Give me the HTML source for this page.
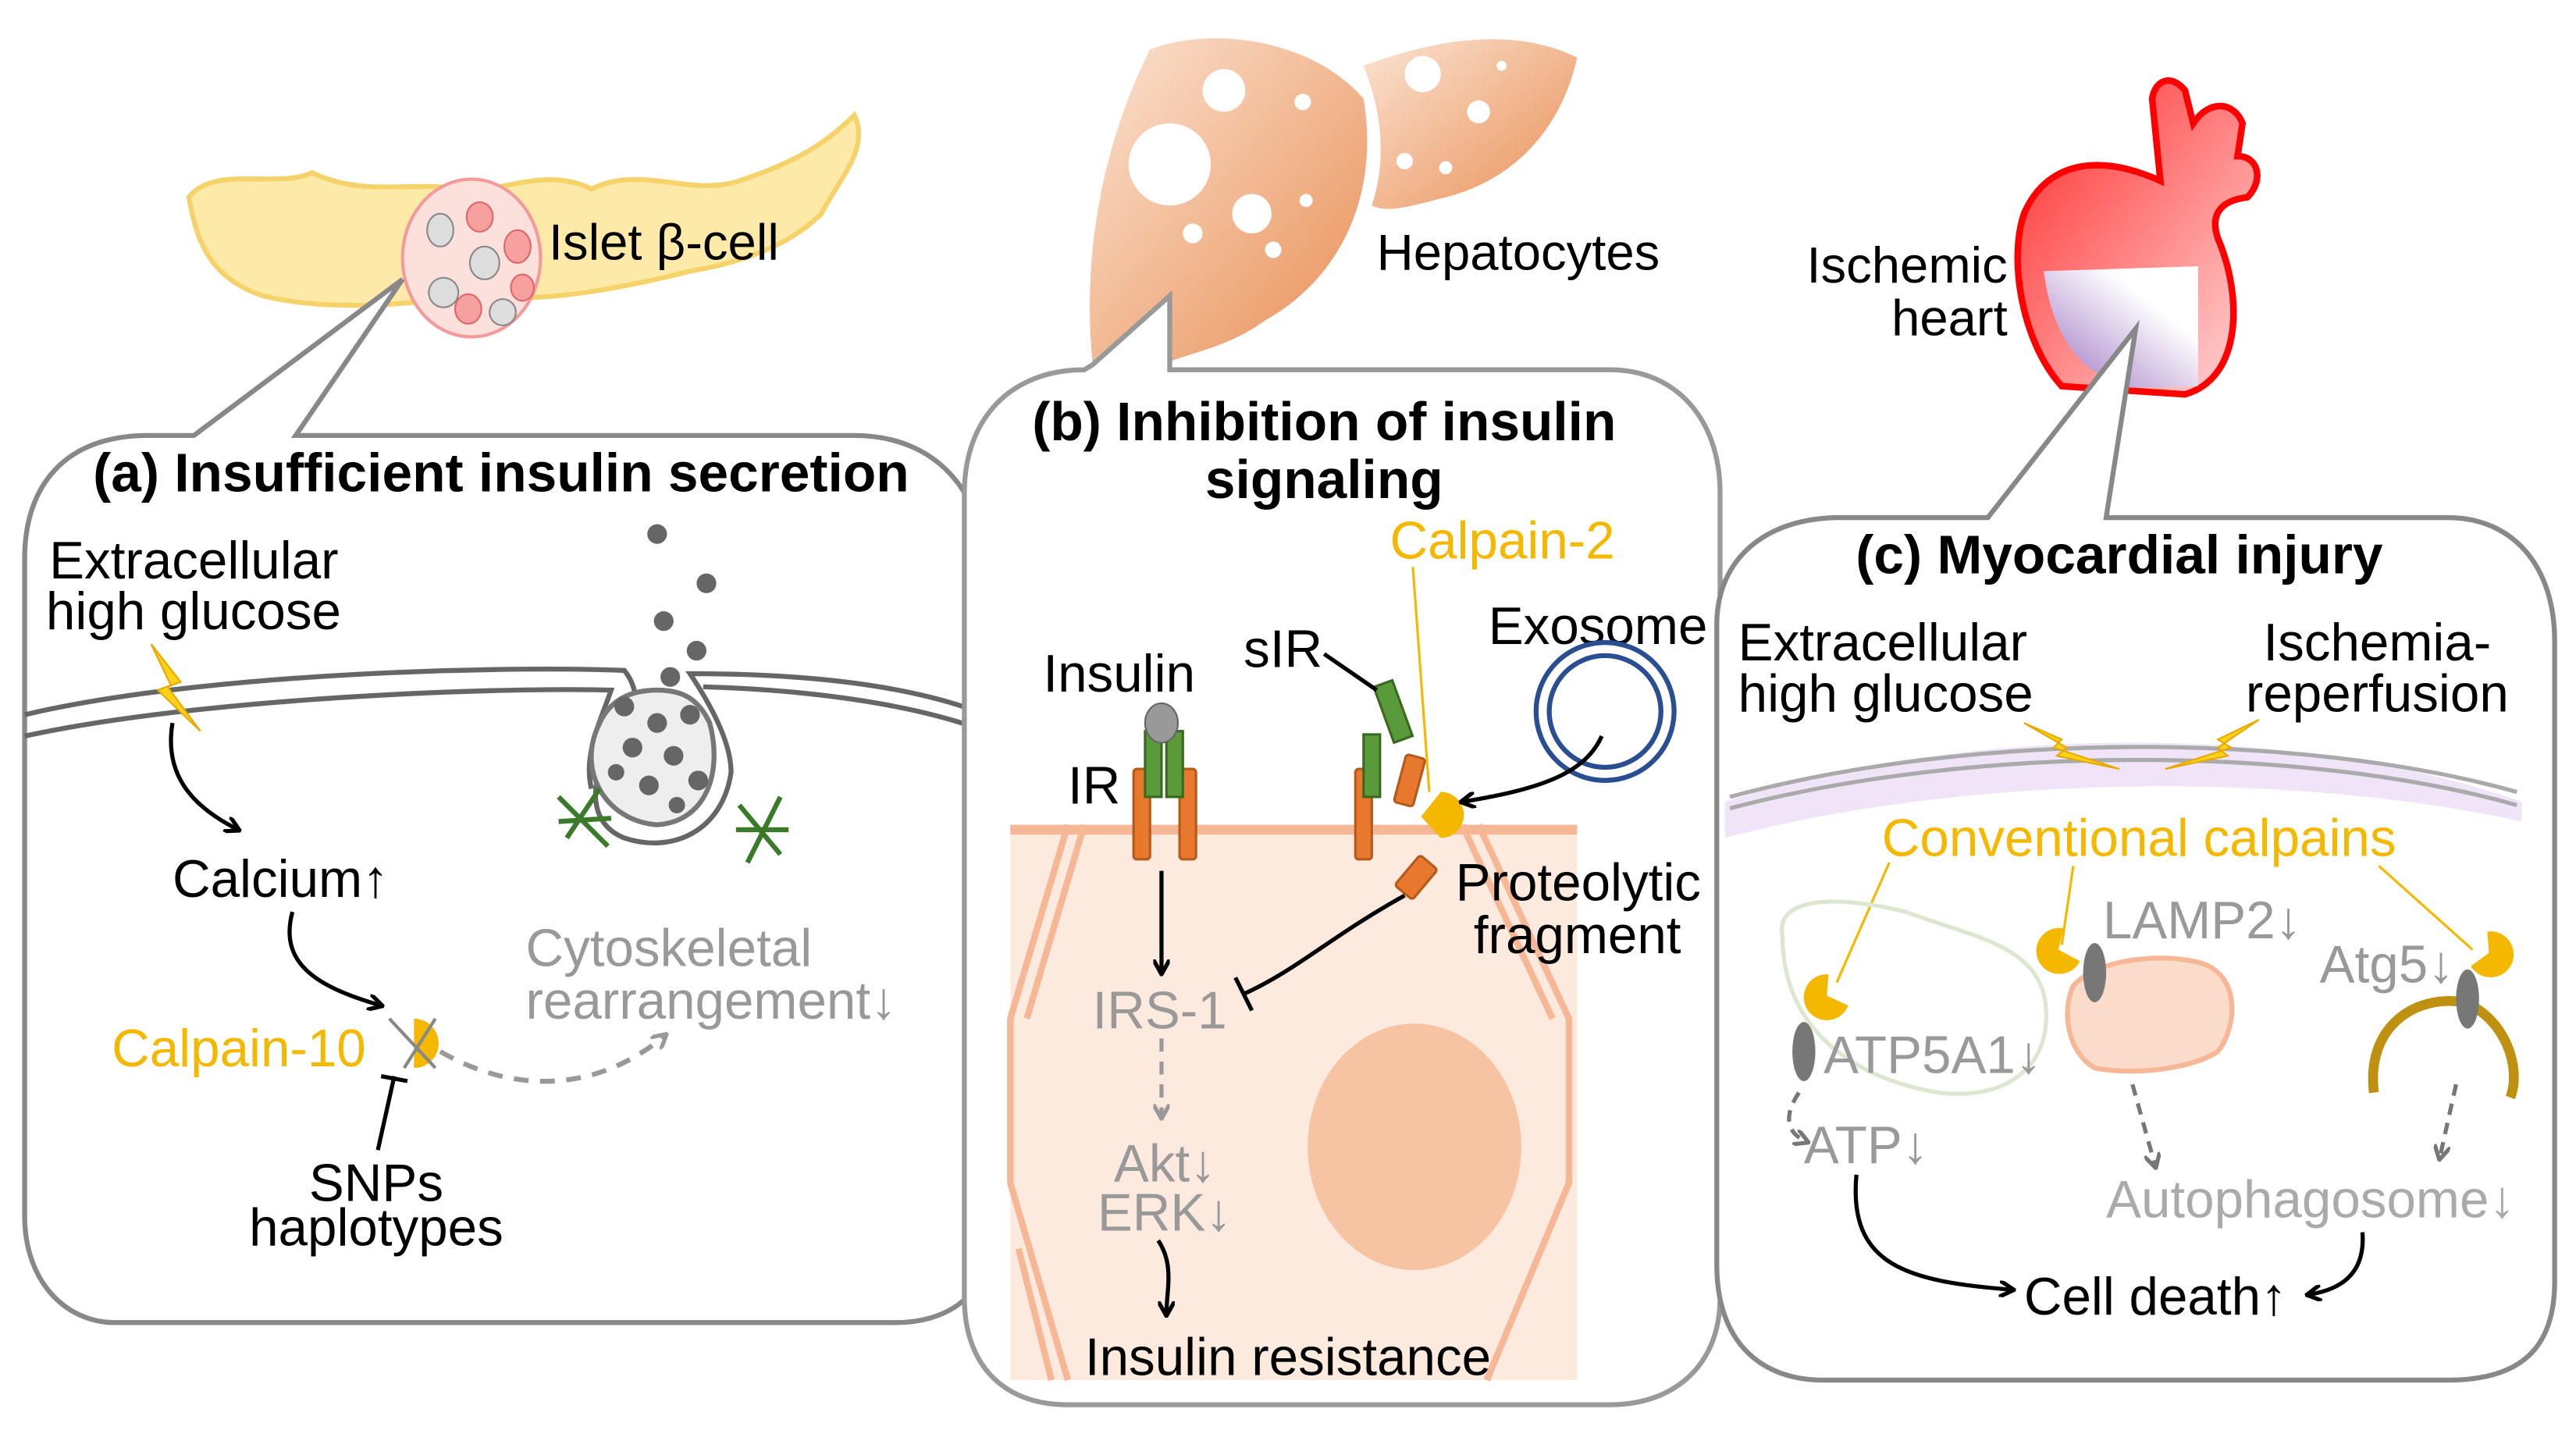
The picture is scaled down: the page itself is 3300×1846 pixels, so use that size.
<!DOCTYPE html>
<html><head><meta charset="utf-8"><style>
html,body{margin:0;padding:0;background:#fff}
svg{display:block}
text{font-family:"Liberation Sans",sans-serif}
</style></head><body>
<svg width="3300" height="1846" viewBox="0 0 1568 877" xmlns="http://www.w3.org/2000/svg">
<defs>
<marker id="ab" markerWidth="10" markerHeight="10" refX="8" refY="5" orient="auto" markerUnits="userSpaceOnUse"><path d="M0,0 L9,5 L0,10" fill="none" stroke="#000" stroke-width="2.5"/></marker>
<marker id="ag" markerWidth="10" markerHeight="10" refX="8" refY="5" orient="auto" markerUnits="userSpaceOnUse"><path d="M0,0 L9,5 L0,10" fill="none" stroke="#999" stroke-width="2.5"/></marker>
<marker id="ad" markerWidth="10" markerHeight="10" refX="8" refY="5" orient="auto" markerUnits="userSpaceOnUse"><path d="M0,0 L9,5 L0,10" fill="none" stroke="#777" stroke-width="2.5"/></marker>
<linearGradient id="liv" x1="0" y1="0" x2="1" y2="1"><stop offset="0" stop-color="#fbe3d2"/><stop offset="1" stop-color="#e98f55"/></linearGradient>
<linearGradient id="hrt" x1="0" y1="0" x2="1" y2="1"><stop offset="0" stop-color="#ff2a2a"/><stop offset="1" stop-color="#ffdada"/></linearGradient>
<linearGradient id="isc" x1="0" y1="1" x2="1" y2="0"><stop offset="0" stop-color="#9a70c0"/><stop offset="0.7" stop-color="#fff"/></linearGradient>
</defs>

<!-- pancreas -->
<path d="M115,120 C130,100 170,115 190,105 C220,120 250,110 280,115 C300,120 330,100 360,115 C390,100 420,120 450,110 C480,100 500,90 520,70 C530,90 510,110 500,130 C480,150 450,160 420,165 C380,175 330,185 290,180 C250,185 200,190 160,180 C130,170 120,150 115,120 Z" fill="#fde9a8" stroke="#f5d36a" stroke-width="3"/>
<ellipse cx="287" cy="157" rx="42" ry="48" fill="#fce0dc" stroke="#f39a9a" stroke-width="2"/>
<g fill="#ddd" stroke="#888"><ellipse cx="268" cy="140" rx="8" ry="10"/><ellipse cx="295" cy="160" rx="9" ry="10"/><ellipse cx="270" cy="178" rx="9" ry="9"/><ellipse cx="306" cy="190" rx="8" ry="8"/></g>
<g fill="#f6a0a0" stroke="#d66"><ellipse cx="292" cy="132" rx="8" ry="9"/><ellipse cx="315" cy="150" rx="8" ry="10"/><ellipse cx="285" cy="188" rx="8" ry="9"/><ellipse cx="318" cy="175" rx="7" ry="8"/></g>
<text x="334" y="158" font-size="31">Islet β-cell</text>

<!-- liver -->
<path d="M700,30 C740,15 800,25 830,60 C840,120 815,170 770,195 C750,210 725,215 712,220 L712,210 L665,220 C660,170 665,100 700,30 Z" fill="url(#liv)"/>
<path d="M830,40 C870,25 920,15 960,35 C950,80 920,110 880,120 C860,125 845,130 835,125 C845,95 840,65 830,40 Z" fill="url(#liv)"/>
<g fill="#fff"><circle cx="712" cy="100" r="25"/><circle cx="745" cy="55" r="13"/><circle cx="762" cy="130" r="12"/><circle cx="793" cy="62" r="5"/><circle cx="775" cy="152" r="5"/><circle cx="795" cy="122" r="4"/><circle cx="726" cy="142" r="6"/><circle cx="866" cy="45" r="11"/><circle cx="900" cy="68" r="7"/><circle cx="855" cy="98" r="5"/><circle cx="880" cy="102" r="4"/><circle cx="914" cy="40" r="3"/></g>
<text x="838" y="164" font-size="31">Hepatocytes</text>

<!-- heart -->
<path d="M1315,110 L1310,60 C1312,48 1322,45 1330,55 L1335,75 C1345,60 1360,62 1365,75 L1362,95 C1375,95 1378,110 1368,120 C1352,122 1345,130 1350,145 C1365,180 1365,230 1330,240 L1255,235 C1232,210 1222,160 1232,130 C1245,100 1275,92 1315,110 Z" fill="url(#hrt)" stroke="#ff0000" stroke-width="4"/>
<path d="M1244,165 L1338,162 L1338,235 L1300,236 C1270,230 1250,210 1244,165 Z" fill="url(#isc)"/>
<text x="1222" y="172" font-size="31" text-anchor="end">Ischemic</text>
<text x="1222" y="204" font-size="31" text-anchor="end">heart</text>

<!-- panel a -->
<path d="M118,265 L245,170 L180,265 L520,265 C570,265 600,300 600,350 L600,760 C600,790 575,805 545,805 L70,805 C40,805 15,780 15,740 L15,340 C15,295 40,265 90,265 Z" fill="#fff" stroke="#888" stroke-width="3"/>
<text x="305" y="299" font-size="33" font-weight="bold" text-anchor="middle">(a) Insufficient insulin secretion</text>
<text x="30" y="352" font-size="32">Extracellular</text>
<text x="28" y="383" font-size="32">high glucose</text>
<path d="M15,435 C120,410 300,405 380,408 C390,420 390,440 375,450 C360,470 355,500 380,510 C410,520 440,505 445,470 C445,450 430,425 420,410 C480,410 550,415 600,435" fill="none" stroke="#666" stroke-width="3"/>
<path d="M15,448 C120,425 300,418 372,420 C365,440 355,460 360,480" fill="none" stroke="#666" stroke-width="3"/>
<path d="M428,418 C500,420 560,430 600,445" fill="none" stroke="#666" stroke-width="3"/>
<path d="M365,440 C350,470 370,500 400,502 C430,500 440,470 432,440 C425,425 415,420 400,420 C385,420 372,425 365,440 Z" fill="#eee" stroke="#777" stroke-width="3"/>
<g fill="#666"><circle cx="400" cy="325" r="6"/><circle cx="430" cy="355" r="6"/><circle cx="404" cy="378" r="6"/><circle cx="424" cy="396" r="6"/><circle cx="408" cy="412" r="6"/><circle cx="380" cy="430" r="6"/><circle cx="400" cy="440" r="6"/><circle cx="420" cy="435" r="6"/><circle cx="385" cy="455" r="6"/><circle cx="410" cy="460" r="6"/><circle cx="425" cy="475" r="6"/><circle cx="395" cy="478" r="6"/><circle cx="375" cy="470" r="5"/><circle cx="412" cy="490" r="5"/></g>
<g stroke="#3a7a2a" stroke-width="3"><path d="M340,485 L370,515 M345,510 L365,480 M340,500 L372,498"/><path d="M450,490 L475,520 M455,525 L475,485 M448,505 L480,505"/></g>
<path d="M92,392 L110,415 L102,418 L122,445 L96,420 L104,417 Z" fill="#ffd21a" stroke="#e8a800"/>
<path d="M105,440 C100,470 115,490 145,505" fill="none" stroke="#000" stroke-width="2.5" marker-end="url(#ab)"/>
<text x="105" y="546" font-size="32">Calcium↑</text>
<path d="M178,555 C170,585 190,600 232,612" fill="none" stroke="#000" stroke-width="2.5" marker-end="url(#ab)"/>
<text x="68" y="649" font-size="32" fill="#f5b800">Calpain-10</text>
<path d="M252,620 A15,15 0 1 1 252,650 L252,635 Z" fill="#f5b800"/>
<path d="M237,620 L265,650 M246,650 L265,620" stroke="#888" stroke-width="2"/>
<path d="M268,640 C320,670 370,660 405,630" fill="none" stroke="#999" stroke-width="3" stroke-dasharray="9,7" marker-end="url(#ag)"/>
<text x="320" y="588" font-size="32" fill="#999">Cytoskeletal</text>
<text x="320" y="620" font-size="32" fill="#999">rearrangement↓</text>
<path d="M240,655 L230,700 M232,655 L248,658" stroke="#000" stroke-width="2.5"/>
<text x="229" y="731" font-size="32" text-anchor="middle">SNPs</text>
<text x="229" y="758" font-size="32" text-anchor="middle">haplotypes</text>

<!-- panel b -->
<path d="M665,222 L712,180 L712,225 L980,225 C1020,225 1047,255 1047,300 L1047,790 C1047,830 1020,855 980,855 L650,855 C610,855 587,830 587,790 L587,300 C587,255 615,225 660,225 Z" fill="#fff" stroke="#999" stroke-width="3"/>
<rect x="615" y="502" width="345" height="338" fill="#fdeadf"/>
<path d="M650,502 L615,620 L615,720 L650,840 M660,502 L625,620 M640,840 L620,760 M900,502 L955,620 L955,720 L905,840 M890,502 L945,620" fill="none" stroke="#f6b796" stroke-width="4"/>
<path d="M615,505 L960,505" stroke="#f6b796" stroke-width="6"/>
<ellipse cx="861" cy="698" rx="65" ry="75" fill="#f6c3a3"/>
<text x="806" y="268" font-size="33" font-weight="bold" text-anchor="middle">(b) Inhibition of insulin</text>
<text x="806" y="303" font-size="33" font-weight="bold" text-anchor="middle">signaling</text>
<text x="846" y="340" font-size="32" fill="#f5b800">Calpain-2</text>
<path d="M860,345 L870,482" stroke="#f5b800" stroke-width="1.5"/>
<text x="635" y="421" font-size="32">Insulin</text>
<text x="650" y="489" font-size="32">IR</text>
<text x="757" y="406" font-size="32">sIR</text>
<text x="906" y="392" font-size="32">Exosome</text>
<circle cx="977" cy="433" r="42" fill="none" stroke="#2a4e92" stroke-width="3"/>
<circle cx="977" cy="433" r="34" fill="none" stroke="#2a4e92" stroke-width="3"/>
<g fill="#e8782e" stroke="#b45a1a" stroke-width="1.5">
<rect x="690" y="468" width="10" height="55" rx="2"/><rect x="718" y="468" width="10" height="55" rx="2"/>
<rect x="825" y="468" width="10" height="55" rx="2"/>
<rect x="852" y="460" width="12" height="30" rx="2" transform="rotate(15 858 475)"/>
<rect x="855" y="522" width="14" height="24" rx="2" transform="rotate(40 862 534)"/>
</g>
<g fill="#5a9a3a" stroke="#3a6a20" stroke-width="1.5">
<rect x="697" y="445" width="10" height="40"/><rect x="710" y="445" width="10" height="40"/>
<rect x="830" y="447" width="10" height="38"/>
<rect x="842" y="415" width="12" height="36" transform="rotate(-20 848 433)"/>
</g>
<ellipse cx="707" cy="440" rx="10" ry="12" fill="#999" stroke="#666"/>
<path d="M806,398 L838,420" stroke="#000" stroke-width="2.5"/>
<path d="M877,482 A14,14 0 1 1 877,510 L865,497 Z" fill="#f5b800"/>
<path d="M975,448 C965,470 940,480 890,488" fill="none" stroke="#000" stroke-width="2.5" marker-end="url(#ab)"/>
<text x="886" y="548" font-size="32">Proteolytic</text>
<text x="897" y="580" font-size="32">fragment</text>
<path d="M707,530 L707,592" stroke="#000" stroke-width="2.5" marker-end="url(#ab)"/>
<path d="M855,545 C810,570 790,590 757,605 M752,595 L762,615" fill="none" stroke="#000" stroke-width="2.5"/>
<text x="665" y="626" font-size="32" fill="#999">IRS-1</text>
<path d="M707,632 L707,680" stroke="#999" stroke-width="2.5" stroke-dasharray="8,6" marker-end="url(#ag)"/>
<text x="678" y="719" font-size="32" fill="#999">Akt↓</text>
<text x="668" y="749" font-size="32" fill="#999">ERK↓</text>
<path d="M705,755 C715,770 710,785 710,800" fill="none" stroke="#000" stroke-width="2.5" marker-end="url(#ab)"/>
<text x="784" y="837" font-size="32" text-anchor="middle">Insulin resistance</text>

<!-- panel c -->
<path d="M1210,315 L1300,200 L1282,315 L1490,315 C1530,315 1555,345 1555,390 L1555,780 C1555,820 1535,840 1490,840 L1110,840 C1070,840 1045,815 1045,770 L1045,380 C1045,340 1075,315 1120,315 Z" fill="#fff" stroke="#888" stroke-width="3"/>
<text x="1290" y="349" font-size="33" font-weight="bold" text-anchor="middle">(c) Myocardial injury</text>
<text x="1058" y="402" font-size="32">Extracellular</text>
<text x="1058" y="433" font-size="32">high glucose</text>
<text x="1447" y="402" font-size="32" text-anchor="middle">Ischemia-</text>
<text x="1447" y="433" font-size="32" text-anchor="middle">reperfusion</text>
<path d="M1050,488 C1200,440 1400,440 1535,488 L1535,500 C1400,470 1200,470 1050,510 Z" fill="#ecdff6" opacity="0.8"/>
<path d="M1053,485 C1200,445 1400,445 1532,482 M1053,492 C1200,453 1400,453 1532,490" fill="none" stroke="#aaa" stroke-width="2.5"/>
<path d="M1232,440 L1255,450 L1250,455 L1290,468 L1252,460 L1258,455 Z" fill="#ffd21a" stroke="#e8a800"/>
<path d="M1375,438 L1350,450 L1358,455 L1318,468 L1356,460 L1350,455 Z" fill="#ffd21a" stroke="#e8a800"/>
<text x="1302" y="521" font-size="32" fill="#f5b800" text-anchor="middle">Conventional calpains</text>
<path d="M1150,525 L1118,598 M1262,527 L1255,575 M1448,527 L1505,578" stroke="#f5b800" stroke-width="1.5"/>
<path d="M1085,570 C1080,545 1120,545 1160,555 C1200,570 1240,575 1245,610 C1250,650 1220,670 1180,665 C1120,655 1085,620 1085,570 Z" fill="none" stroke="#dbe8cf" stroke-width="2.5"/>
<path d="M1262,600 C1275,585 1310,580 1335,585 C1365,590 1362,625 1350,640 C1335,650 1300,655 1275,650 C1258,640 1255,615 1262,600 Z" fill="#fbdccb" stroke="#f6b796" stroke-width="3"/>
<path d="M1445,665 C1440,625 1470,605 1500,610 C1525,620 1535,650 1528,668" fill="none" stroke="#c09010" stroke-width="6"/>
<g fill="#f5b800">
<path d="M1113,593 A14,14 0 1 0 1125,612 L1112,606 Z"/>
<path d="M1256,565 A14,14 0 1 0 1266,585 L1253,578 Z"/>
<path d="M1514,567 A14,14 0 1 1 1504,588 L1515,580 Z"/>
</g>
<g fill="#777"><ellipse cx="1098" cy="640" rx="7" ry="18"/><ellipse cx="1275" cy="592" rx="7" ry="18"/><ellipse cx="1502" cy="608" rx="7" ry="18"/></g>
<text x="1110" y="653" font-size="32" fill="#999">ATP5A1↓</text>
<text x="1280" y="571" font-size="32" fill="#999">LAMP2↓</text>
<text x="1412" y="598" font-size="32" fill="#999">Atg5↓</text>
<path d="M1095,665 C1085,680 1088,690 1100,695" fill="none" stroke="#777" stroke-width="2.5" stroke-dasharray="7,5" marker-end="url(#ad)"/>
<text x="1098" y="708" font-size="32" fill="#999">ATP↓</text>
<path d="M1298,660 L1312,710" stroke="#777" stroke-width="2.5" stroke-dasharray="7,5" marker-end="url(#ad)"/>
<path d="M1495,660 L1485,705" stroke="#777" stroke-width="2.5" stroke-dasharray="7,5" marker-end="url(#ad)"/>
<text x="1282" y="741" font-size="32" fill="#aaa">Autophagosome↓</text>
<path d="M1130,715 C1125,770 1160,780 1225,785" fill="none" stroke="#000" stroke-width="2.5" marker-end="url(#ab)"/>
<text x="1232" y="800" font-size="32">Cell death↑</text>
<path d="M1438,750 C1440,775 1425,785 1405,788" fill="none" stroke="#000" stroke-width="2.5" marker-end="url(#ab)"/>
</svg>
</body></html>
